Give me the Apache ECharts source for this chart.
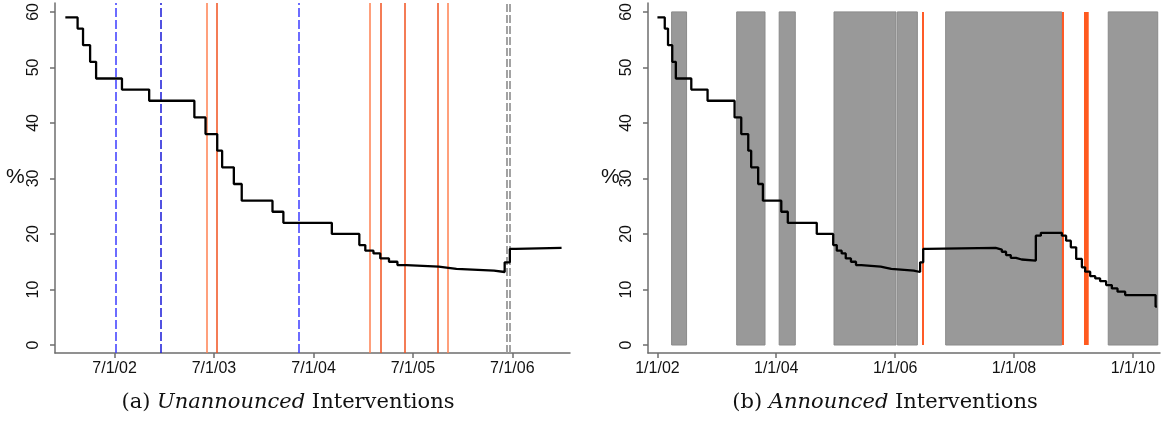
<!DOCTYPE html>
<html>
<head>
<meta charset="utf-8">
<script src="https://cdn.jsdelivr.net/npm/echarts@6/dist/echarts.min.js"></script>
<style>
html,body{margin:0;padding:0;background:#fff;}
#c{width:1161px;height:430px;}
</style>
</head>
<body>
<div id="c"></div>
<script>
// ---- data ----
const changeDates = [
  '2002-01-01','2002-02-15','2002-03-07','2002-04-02','2002-04-24','2002-07-28','2002-11-05',
  '2003-04-20','2003-05-31','2003-07-13','2003-07-31','2003-09-12','2003-10-11',
  '2004-02-01','2004-03-12','2004-09-06','2004-12-16',
  '2005-01-07','2005-02-06','2005-03-03','2005-04-04','2005-05-05','2005-06-07','2005-10-04','2005-11-08','2005-12-08',
  '2006-04-25','2006-06-03','2006-06-22','2006-07-13',
  '2007-09-10','2007-10-18','2007-11-13','2007-12-12',
  '2008-01-13','2008-02-17','2008-05-14','2008-06-14','2008-10-21','2008-11-16','2008-12-15',
  '2009-01-17','2009-02-21','2009-03-13','2009-04-13','2009-05-14','2009-06-13','2009-07-20','2009-08-24','2009-09-28','2009-11-14',
  '2010-05-20','2010-05-28'
];
const changeValues = [
  59,57,54,51,48,46,44,
  41,38,35,32,29,26,
  24,22,20,18,
  17,16.5,15.6,15,14.4,14.1,13.9,13.7,13.4,
  13.15,14.9,17.3,17.5,
  17.2,16.8,16.2,15.7,
  15.4,15.2,19.7,20.2,19.7,18.8,17.6,
  15.5,14.0,13.2,12.4,12.0,11.5,10.8,10.2,9.6,9.0,
  6.9,6.9
];
const leftEndDate = '2006-12-29';

const yTicks = [0,10,20,30,40,50,60];
const leftTickDates = ['2002-07-01','2003-07-01','2004-07-01','2005-07-01','2006-07-01'];
const rightTickDates = ['2002-01-01','2004-01-01','2006-01-01','2008-01-01','2010-01-01'];

// unannounced interventions (left panel)
const blueDashDates = ['2002-07-05','2004-05-07'];
const navyDashDates = ['2002-12-18'];
const coralLineDates = ['2003-06-04','2005-01-24','2005-11-07'];
const redLineDates = ['2003-07-13','2005-03-06','2005-06-01','2005-10-01'];
const greyDashDates = ['2006-06-12','2006-06-23'];

// announced interventions (right panel)
const greyPeriods = [
  ['2002-03-29','2002-06-29'],
  ['2003-05-03','2003-10-24'],
  ['2004-01-19','2004-04-27'],
  ['2004-12-21','2006-01-06'],
  ['2006-01-14','2006-05-17'],
  ['2006-11-07','2008-10-20'],
  ['2009-08-02','2010-06-02']
];
const orangeLineDatesR = ['2006-06-22','2008-10-26'];
const orangeBandsR = [['2009-03-06','2009-04-04']];

// ---- build ----
const T = s => Date.parse(s);
const full = changeDates.map((d,i)=>[T(d), changeValues[i]]);
const leftData = full.filter(p => p[0] <= T(leftEndDate));
leftData.push([T(leftEndDate), leftData[leftData.length-1][1]]);

function fmtDate(v){
  const d = new Date(v);
  return (d.getUTCMonth()+1)+'/'+d.getUTCDate()+'/'+String(d.getUTCFullYear()).slice(2);
}
const axisColor = '#6e6e6e';
const labelFont = {fontFamily:'Liberation Sans, Arial, sans-serif', fontSize:16, color:'#111'};

function xAxisCfg(idx, min, max, ticks){
  return {
    type:'value', gridIndex:idx, min:T(min), max:T(max), scale:true,
    axisLine:{show:true, onZero:false, lineStyle:{color:axisColor, width:1.5}},
    axisTick:{show:true, length:5, lineStyle:{color:axisColor, width:1.5}, customValues:ticks.map(T)},
    axisLabel:Object.assign({margin:8, customValues:ticks.map(T), formatter:fmtDate, hideOverlap:false,
      showMinLabel:true, showMaxLabel:true}, labelFont),
    splitLine:{show:false}, minorTick:{show:false}
  };
}
function yAxisCfg(idx){
  return {
    type:'value', gridIndex:idx, min:-1.44, max:61.6,
    axisLine:{show:true, onZero:false, lineStyle:{color:axisColor, width:1.5}},
    axisTick:{show:true, length:5, lineStyle:{color:axisColor, width:1.5}, customValues:yTicks},
    axisLabel:Object.assign({margin:13, rotate:90, customValues:yTicks}, labelFont),
    splitLine:{show:false}
  };
}
function vLines(dates, color, type, width){
  return dates.map(d => ({xAxis:T(d), lineStyle:{color:color, type:type, width:width}}));
}

const leftMarkLines = [].concat(
  vLines(blueDashDates, '#3c3cff', [9,3], 1.5),
  vLines(navyDashDates, '#1a1ad8', [9,3], 1.5),
  vLines(coralLineDates, '#ff8050', 'solid', 1.5),
  vLines(redLineDates, '#f0501e', 'solid', 1.5),
  vLines(greyDashDates, '#999999', [8,3], 1.8)
);

const rightAreas = greyPeriods.map(p => [
  {xAxis:T(p[0]), yAxis:0, itemStyle:{color:'#999999', borderColor:'#8a8a8a', borderWidth:1}},
  {xAxis:T(p[1]), yAxis:60}
]).concat(orangeBandsR.map(p => [
  {xAxis:T(p[0]), yAxis:0, itemStyle:{color:'#ff5a1f', borderWidth:0}},
  {xAxis:T(p[1]), yAxis:60}
]));
const rightLines = orangeLineDatesR.map(d => [
  {coord:[T(d),0], lineStyle:{color:'#ff4a10', width:1.8, type:'solid'}},
  {coord:[T(d),60]}
]);

const option = {
  animation:false,
  backgroundColor:'#fff',
  grid:[
    {left:55, top:3, width:515, height:350},
    {left:648, top:3, width:512, height:350}
  ],
  xAxis:[
    xAxisCfg(0, '2001-11-24', '2007-01-29', leftTickDates),
    xAxisCfg(1, '2001-11-04', '2010-06-16', rightTickDates)
  ],
  yAxis:[yAxisCfg(0), yAxisCfg(1)],
  series:[
    {type:'line', xAxisIndex:0, yAxisIndex:0, data:[], z:1, silent:true,
     markLine:{silent:true, symbol:['none','none'], label:{show:false}, data:leftMarkLines, animation:false}},
    {type:'line', xAxisIndex:0, yAxisIndex:0, data:leftData, step:'end', showSymbol:false, z:5,
     lineStyle:{color:'#000', width:2.3}},
    {type:'line', xAxisIndex:1, yAxisIndex:1, data:[], z:1, silent:true,
     markArea:{silent:true, label:{show:false}, data:rightAreas},
     markLine:{silent:true, symbol:['none','none'], label:{show:false}, data:rightLines, animation:false}},
    {type:'line', xAxisIndex:1, yAxisIndex:1, data:full, step:'end', showSymbol:false, z:5,
     lineStyle:{color:'#000', width:2.3}}
  ],
  graphic:[
    {type:'text', left:6, top:167, style:{text:'%', fontFamily:'Liberation Sans, Arial, sans-serif', fontSize:21, fill:'#111'}},
    {type:'text', left:601, top:167, style:{text:'%', fontFamily:'Liberation Sans, Arial, sans-serif', fontSize:21, fill:'#111'}},
    {type:'text', x:288, y:403, style:{text:'(a) {i|Unannounced} Interventions', align:'center', verticalAlign:'middle',
      fontFamily:'DejaVu Serif, serif', fontSize:21, fill:'#111', rich:{i:{fontStyle:'italic', fontFamily:'DejaVu Serif, serif', fontSize:21}}}},
    {type:'text', x:885, y:403, style:{text:'(b) {i|Announced} Interventions', align:'center', verticalAlign:'middle',
      fontFamily:'DejaVu Serif, serif', fontSize:21, fill:'#111', rich:{i:{fontStyle:'italic', fontFamily:'DejaVu Serif, serif', fontSize:21}}}}
  ]
};
const chart = echarts.init(document.getElementById('c'), null, {renderer:'canvas'});
chart.setOption(option);
</script>
</body>
</html>
